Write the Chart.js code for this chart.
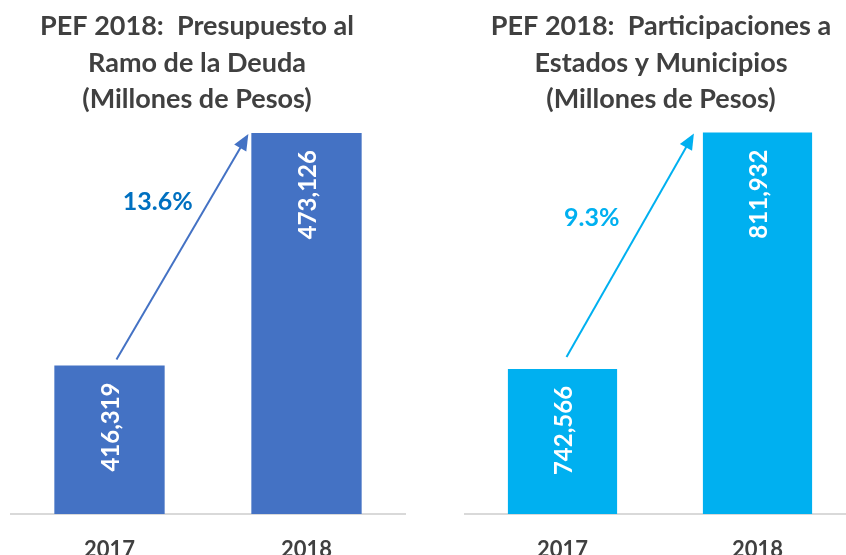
<!DOCTYPE html>
<html>
<head>
<meta charset="utf-8">
<script src="https://cdn.jsdelivr.net/npm/chart.js@4.4.1/dist/chart.umd.min.js"></script>
<style>
html, body { margin: 0; padding: 0; background: #fff; overflow: hidden; width: 846px; height: 555px; }
.box { position: absolute; top: 0; height: 555px; }
#left { left: 0; width: 423px; }
#right { left: 423px; width: 434px; }
</style>
</head>
<body>
<div class="box" id="left"><canvas id="chart_deuda"></canvas></div>
<div class="box" id="right"><canvas id="chart_participaciones"></canvas></div>
<script>
var years = ['2017', '2018'];
var deudaValues = [416319, 473126];
var participacionesValues = [742566, 811932];
var deudaTitle = ['PEF 2018:  Presupuesto al', 'Ramo de la Deuda', '(Millones de Pesos)'];
var participacionesTitle = ['PEF 2018:  Participaciones a', 'Estados y Municipios', '(Millones de Pesos)'];
var deudaGrowth = '13.6%';
var participacionesGrowth = '9.3%';
var deudaRange = [380000, 480000];
var participacionesRange = [700000, 820000];

var FONT = 'Lato, "Open Sans", sans-serif';

// title, value labels and growth arrow drawn on top of the bars
var decorPlugin = {
    id: 'decor',
    afterDatasetsDraw: function (chart, args, opts) {
        var ctx = chart.ctx;
        var bars = chart.getDatasetMeta(0).data;
        var values = chart.data.datasets[0].data;
        ctx.save();

        // titles
        ctx.fillStyle = '#404040';
        ctx.font = 'bold 27px ' + FONT;
        ctx.textAlign = 'center';
        ctx.textBaseline = 'alphabetic';
        opts.title.forEach(function (line, i) {
            ctx.fillText(line, opts.titleX, 35 + i * 36.5);
        });

        // values inside bars, rotated
        ctx.fillStyle = '#ffffff';
        ctx.font = 'bold 24px ' + FONT;
        ctx.textAlign = 'right';
        ctx.textBaseline = 'middle';
        bars.forEach(function (bar, i) {
            ctx.save();
            ctx.translate(bar.x + 2, bar.y + 17);
            ctx.rotate(-Math.PI / 2);
            ctx.fillText(values[i].toLocaleString('en-US'), 0, 0);
            ctx.restore();
        });

        // arrow from first bar to second
        var a = bars[0], b = bars[1];
        var x0 = a.x + opts.startOffset[0], y0 = a.y + opts.startOffset[1];
        var x1 = b.x - b.width / 2 + opts.endOffset[0], y1 = b.y + opts.endOffset[1];
        var ang = Math.atan2(y1 - y0, x1 - x0);
        var headLen = 16, headW = 7;
        ctx.strokeStyle = opts.arrowColor;
        ctx.fillStyle = opts.arrowColor;
        ctx.lineWidth = 2;
        ctx.beginPath();
        ctx.moveTo(x0, y0);
        ctx.lineTo(x1 - Math.cos(ang) * (headLen - 2), y1 - Math.sin(ang) * (headLen - 2));
        ctx.stroke();
        ctx.beginPath();
        ctx.moveTo(x1, y1);
        ctx.lineTo(x1 - Math.cos(ang) * headLen - Math.sin(ang) * headW, y1 - Math.sin(ang) * headLen + Math.cos(ang) * headW);
        ctx.lineTo(x1 - Math.cos(ang) * headLen + Math.sin(ang) * headW, y1 - Math.sin(ang) * headLen - Math.cos(ang) * headW);
        ctx.closePath();
        ctx.fill();

        // growth label to the left of the arrow
        var t = opts.labelAt;
        var ly = y0 + (y1 - y0) * t;
        var lx = x0 + (x1 - x0) * t;
        ctx.fillStyle = opts.labelColor;
        ctx.font = 'bold 25px ' + FONT;
        ctx.textAlign = 'right';
        ctx.textBaseline = 'middle';
        ctx.fillText(opts.label, lx - opts.labelGap, ly);

        ctx.restore();
    }
};

function makeChart(id, values, range, color, padLeft, padRight, decor) {
    return new Chart(document.getElementById(id), {
        type: 'bar',
        data: {
            labels: years,
            datasets: [{
                data: values,
                backgroundColor: color,
                borderWidth: 0,
                barPercentage: 0.56,
                categoryPercentage: 1
            }]
        },
        options: {
            animation: false,
            responsive: true,
            maintainAspectRatio: false,
            layout: { padding: { left: padLeft, right: padRight, top: 105, bottom: 0 } },
            plugins: {
                legend: { display: false },
                title: { display: false },
                tooltip: { enabled: false },
                decor: decor
            },
            scales: {
                x: {
                    grid: { display: false },
                    border: { display: true, color: '#d9d9d9', width: 2 },
                    ticks: {
                        color: '#404040',
                        padding: 15,
                        font: { family: FONT, size: 22, weight: 'bold' }
                    },
                    afterFit: function (scale) { scale.height = 41; }
                },
                y: {
                    display: false,
                    min: range[0],
                    max: range[1]
                }
            }
        },
        plugins: [decorPlugin]
    });
}

var chart_deuda = makeChart('chart_deuda', deudaValues, deudaRange, '#4472C4', 11, 18, {
    title: deudaTitle,
    titleX: 197,
    label: deudaGrowth,
    labelColor: '#0070C0',
    arrowColor: '#4472C4',
    startOffset: [7, -6],
    endOffset: [-3, 1],
    labelAt: 0.7,
    labelGap: 16
});

var chart_participaciones = makeChart('chart_participaciones', participacionesValues, participacionesRange, '#00B0F0', 42, 2, {
    title: participacionesTitle,
    titleX: 238,
    label: participacionesGrowth,
    labelColor: '#00B0F0',
    arrowColor: '#00B0F0',
    startOffset: [4, -12],
    endOffset: [-9, 1],
    labelAt: 0.62,
    labelGap: 26
});
</script>
</body>
</html>
